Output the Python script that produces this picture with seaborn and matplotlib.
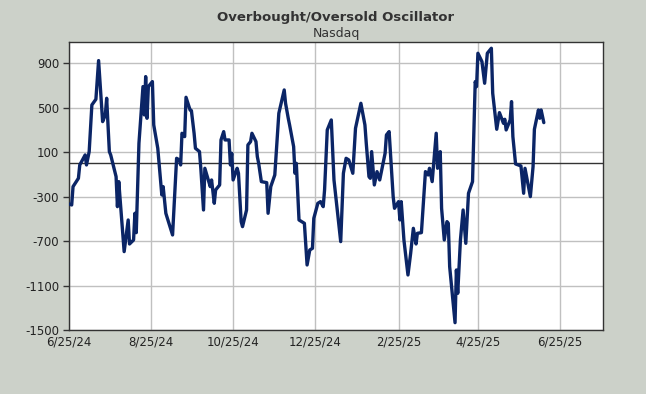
import matplotlib
matplotlib.use("Agg")
import matplotlib.pyplot as plt
import seaborn as sns
import pandas as pd
import numpy as np

# ---- data ----
start_date = "2024-06-25"
day_offsets = [0, 2, 3, 7, 8, 12, 13, 15, 17, 20, 22, 25, 27, 28, 30, 31, 35, 36, 37, 41,
               44, 45, 48, 49, 50, 52, 55, 56, 57, 58, 59, 62, 63, 66, 69, 70, 72, 77, 80, 82,
               83, 84, 86, 87, 90, 91, 93, 94, 97, 98, 100, 101, 105, 106, 108, 109, 112, 113, 115, 116,
               119, 120, 121, 122, 125, 126, 128, 129, 132, 133, 135, 136, 139, 140, 141, 143, 147, 148, 150, 153,
               156, 160, 161, 163, 164, 167, 168, 169, 171, 175, 177, 179, 181, 182, 185, 187, 189, 190, 192, 195,
               197, 200, 202, 204, 206, 208, 211, 213, 217, 220, 221, 223, 224, 225, 227, 229, 231, 235, 236, 238,
               241, 242, 245, 246, 247, 249, 252, 254, 256, 258, 259, 262, 265, 267, 268, 270, 273, 274, 276, 277,
               279, 281, 282, 283, 287, 288, 289, 291, 293, 295, 297, 300, 302, 303, 304, 307, 309, 311, 314, 315,
               318, 320, 323, 324, 325, 328, 329, 330, 332, 336, 338, 339, 343, 345, 346, 349, 350, 351, 353]
oscillator = [-366, -375, -210, -135, -15, 75, -15, 105, 525, 576, 924, 375, 435, 585, 105, 75, -120, -390, -165, -795,
              -510, -726, -690, -450, -624, 180, 690, 435, 780, 405, 690, 735, 345, 135, -285, -210, -450, -645, 45, 30,
              -15, 270, 240, 594, 480, 474, 270, 135, 105, -45, -420, -45, -210, -150, -360, -240, -195, 210, 285, 210,
              210, -15, 90, -150, -45, -90, -525, -570, -420, 165, 195, 270, 195, 60, 0, -165, -174, -450, -210, -105,
              450, 660, 540, 405, 345, 150, -90, 0, -510, -540, -915, -780, -765, -495, -360, -345, -390, -240, 300, 390,
              -150, -480, -705, -90, 45, 30, -90, 315, 540, 345, 180, -120, -135, 105, -195, -75, -150, 90, 255, 285,
              -300, -405, -345, -510, -345, -690, -1005, -810, -585, -726, -630, -624, -75, -105, -45, -165, 270, -45, 105, -405,
              -690, -525, -540, -930, -1434, -960, -1170, -690, -420, -720, -270, -165, 735, 690, 990, 915, 720, 990, 1035, 630,
              306, 456, 360, 396, 300, 390, 555, 240, -6, -24, -270, -45, -300, -30, 306, 480, 405, 480, 366]
tick_dates = ["2024-06-25", "2024-08-25", "2024-10-25", "2024-12-25", "2025-02-25", "2025-04-25", "2025-06-25"]
tick_labels = ["6/25/24", "8/25/24", "10/25/24", "12/25/24", "2/25/25", "4/25/25", "6/25/25"]
y_ticks = [-1500, -1100, -700, -300, 100, 500, 900]

df = pd.DataFrame({
    "date": pd.Timestamp(start_date) + pd.to_timedelta(day_offsets, unit="D"),
    "value": oscillator,
})

bg = "#ccd1c9"
sns.set_theme(style="white")
plt.rcParams["font.family"] = ["DejaVu Sans"]

fig = plt.figure(figsize=(6.46, 3.94), dpi=100, facecolor=bg)
ax = fig.add_axes([69 / 646, 1 - 330 / 394, (603 - 69) / 646, (330 - 41.7) / 394])
ax.set_facecolor("white")

for d in tick_dates:
    ax.axvline(pd.Timestamp(d), color="#c0c0c0", lw=1, zorder=0)
for yv in y_ticks:
    ax.axhline(yv, color="#c0c0c0", lw=1, zorder=0)
ax.axhline(0, color="#333333", lw=1, zorder=1)

sns.lineplot(data=df, x="date", y="value", ax=ax, color="#0b2566", lw=2.4, zorder=3)

ax.set_xlim(pd.Timestamp("2024-06-25"), pd.Timestamp("2025-07-27"))
ax.set_ylim(-1500, 1094)
ax.set_xticks([pd.Timestamp(d) for d in tick_dates])
ax.set_xticklabels(tick_labels)
ax.set_yticks(y_ticks)
ax.set_yticklabels([str(v) for v in y_ticks])
ax.set_xlabel("")
ax.set_ylabel("")
ax.tick_params(axis="x", length=0, pad=4, labelsize=8.5, labelcolor="#222222")
ax.tick_params(axis="y", length=4, width=1, color="#333333", pad=3, labelsize=8.5, labelcolor="#222222", left=True)
for s in ax.spines.values():
    s.set_color("#333333")
    s.set_linewidth(1)
    s.set_visible(True)

fig.text(336 / 646, 1 - 17 / 394, "Overbought/Oversold Oscillator", ha="center", va="center",
         fontsize=9.5, fontweight="bold", color="#333333")
fig.text(336 / 646, 1 - 34 / 394, "Nasdaq", ha="center", va="center", fontsize=9, color="#333333")

fig.savefig("out.png", dpi=100, facecolor=bg)
